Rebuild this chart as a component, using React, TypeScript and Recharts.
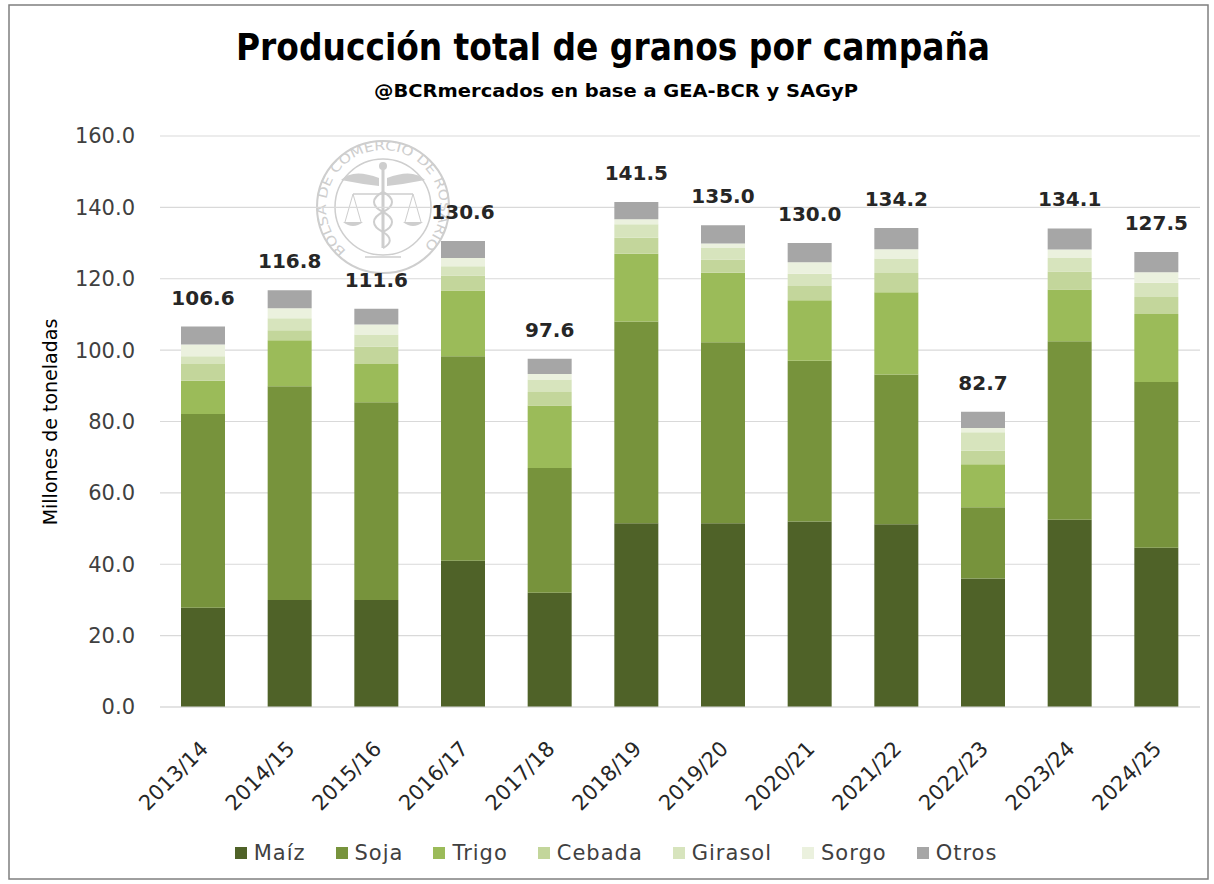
import React from 'react';
import { BarChart, Bar, XAxis, YAxis, CartesianGrid, LabelList, Legend } from 'recharts';

const categories = ['2013/14', '2014/15', '2015/16', '2016/17', '2017/18', '2018/19', '2019/20', '2020/21', '2021/22', '2022/23', '2023/24', '2024/25'];
const maiz = [27.8, 30.0, 30.0, 41.0, 32.0, 51.5, 51.5, 52.0, 51.2, 36.0, 52.5, 44.6];
const soja = [54.3, 59.9, 55.4, 57.3, 35.0, 56.5, 50.7, 45.0, 42.0, 20.0, 50.0, 46.5];
const trigo = [9.3, 12.9, 10.7, 18.4, 17.5, 19.0, 19.5, 17.0, 23.0, 12.0, 14.5, 19.0];
const cebada = [4.7, 2.8, 4.9, 4.2, 3.8, 4.5, 3.7, 4.0, 5.4, 3.8, 5.0, 4.8];
const girasol = [2.2, 3.3, 3.4, 2.6, 3.5, 3.8, 3.2, 3.4, 4.1, 5.2, 3.8, 4.0];
const sorgo = [3.3, 2.8, 2.8, 2.3, 1.5, 1.4, 1.3, 3.2, 2.6, 1.2, 2.4, 2.9];
const otros = [5.0, 5.1, 4.4, 4.8, 4.3, 4.8, 5.1, 5.4, 5.9, 4.5, 5.9, 5.7];
const totals = [106.6, 116.8, 111.6, 130.6, 97.6, 141.5, 135.0, 130.0, 134.2, 82.7, 134.1, 127.5];

const seriesNames = ['Maíz', 'Soja', 'Trigo', 'Cebada', 'Girasol', 'Sorgo', 'Otros'];
const seriesColors = ['#4f6228', '#77933c', '#9bbb59', '#c3d69b', '#d7e4bd', '#ebf1de', '#a6a6a6'];
const yTicks = [0, 20, 40, 60, 80, 100, 120, 140, 160];

const titleText = 'Producción total de granos por campaña';
const subtitleText = '@BCRmercados  en base a GEA-BCR y SAGyP';
const yAxisTitle = 'Millones de toneladas';
const watermarkText = 'BOLSA DE COMERCIO DE ROSARIO';

const seriesValues = [maiz, soja, trigo, cebada, girasol, sorgo, otros];
const data = categories.map((c, i) => {
  const row: Record<string, any> = { campaign: c, total: totals[i] };
  seriesNames.forEach((n, k) => {
    row[n] = seriesValues[k][i];
  });
  return row;
});

const AXIS_FONT = '"DejaVu Sans", "Noto Sans", sans-serif';
const NARROW_FONT = '"Liberation Sans Narrow", "DejaVu Sans Condensed", "Liberation Sans", sans-serif';

const XTick = (props: any) => {
  const { x, y, payload } = props;
  const ax = x + 6;
  const ay = y + 43;
  return (
    <text
      x={ax}
      y={ay}
      transform={`rotate(-45 ${ax} ${ay})`}
      textAnchor="end"
      fontFamily={AXIS_FONT}
      fontSize={21}
      fill="#262626"
    >
      {payload.value}
    </text>
  );
};

const LegendContent = () => (
  <div
    style={{
      display: 'flex',
      justifyContent: 'center',
      alignItems: 'center',
      fontFamily: AXIS_FONT,
      fontSize: 21,
      color: '#404040',
      letterSpacing: 1,
      lineHeight: '26px',
    }}
  >
    {seriesNames.map((n, i) => (
      <div key={n} style={{ display: 'flex', alignItems: 'center', marginRight: i < seriesNames.length - 1 ? 30 : 0 }}>
        <span style={{ display: 'inline-block', width: 12, height: 12, background: seriesColors[i], marginRight: 7 }} />
        <span>{n}</span>
      </div>
    ))}
  </div>
);

const Watermark = () => {
  const cx = 383;
  const cy = 207;
  const r = 57;
  const a1 = (130 * Math.PI) / 180;
  const a2 = (50 * Math.PI) / 180;
  const sx = cx + r * Math.cos(a1);
  const sy = cy + r * Math.sin(a1);
  const ex = cx + r * Math.cos(a2);
  const ey = cy + r * Math.sin(a2);
  const c = '#c9c9c9';
  return (
    <g opacity={0.9}>
      <defs>
        <path id="wmArc" d={`M ${sx} ${sy} A ${r} ${r} 0 1 1 ${ex} ${ey}`} />
      </defs>
      <circle cx={cx} cy={cy} r={66} fill="none" stroke={c} strokeWidth={2} />
      <circle cx={cx} cy={cy} r={48} fill="none" stroke={c} strokeWidth={1.5} />
      <text fontFamily={AXIS_FONT} fontSize={13} fill={c}>
        <textPath href="#wmArc" textLength={272} lengthAdjust="spacingAndGlyphs">
          {watermarkText}
        </textPath>
      </text>
      <line x1={cx} y1={168} x2={cx} y2={248} stroke={c} strokeWidth={3} />
      <circle cx={cx} cy={166} r={4} fill={c} />
      <path d={`M ${cx - 4} 178 Q ${cx - 30} 168 ${cx - 42} 180 Q ${cx - 22} 184 ${cx - 4} 186 Z`} fill={c} />
      <path d={`M ${cx + 4} 178 Q ${cx + 30} 168 ${cx + 42} 180 Q ${cx + 22} 184 ${cx + 4} 186 Z`} fill={c} />
      <path d={`M ${cx} 192 C ${cx + 12} 198 ${cx + 12} 206 ${cx} 212 C ${cx - 12} 218 ${cx - 12} 226 ${cx} 232 C ${cx + 10} 238 ${cx + 8} 244 ${cx} 248`} fill="none" stroke={c} strokeWidth={2} />
      <path d={`M ${cx} 192 C ${cx - 12} 198 ${cx - 12} 206 ${cx} 212 C ${cx + 12} 218 ${cx + 12} 226 ${cx} 232`} fill="none" stroke={c} strokeWidth={2} />
      <line x1={cx - 30} y1={194} x2={cx + 30} y2={194} stroke={c} strokeWidth={1.5} />
      <line x1={cx - 30} y1={194} x2={cx - 38} y2={222} stroke={c} strokeWidth={1} />
      <line x1={cx - 30} y1={194} x2={cx - 22} y2={222} stroke={c} strokeWidth={1} />
      <line x1={cx + 30} y1={194} x2={cx + 38} y2={222} stroke={c} strokeWidth={1} />
      <line x1={cx + 30} y1={194} x2={cx + 22} y2={222} stroke={c} strokeWidth={1} />
      <path d={`M ${cx - 40} 222 Q ${cx - 30} 230 ${cx - 20} 222 Z`} fill={c} />
      <path d={`M ${cx + 20} 222 Q ${cx + 30} 230 ${cx + 40} 222 Z`} fill={c} />
      <line x1={cx - 18} y1={257} x2={cx + 18} y2={257} stroke={c} strokeWidth={1.5} />
    </g>
  );
};

export default function App() {
  return (
    <div style={{ position: 'absolute', left: 0, top: 0, width: 1214, height: 884, background: '#ffffff' }}>
      <svg width={1214} height={884} style={{ position: 'absolute', left: 0, top: 0 }}>
        <rect x={9} y={5} width={1199} height={874} fill="#ffffff" stroke="#7f7f7f" strokeWidth={1.5} />
        <Watermark />
        <text
          x={613}
          y={60}
          textAnchor="middle"
          fontFamily={NARROW_FONT}
          fontWeight="bold"
          fontSize={38}
          fill="#000000"
          textLength={754}
          lengthAdjust="spacingAndGlyphs"
        >
          {titleText}
        </text>
        <text
          x={616}
          y={97}
          textAnchor="middle"
          fontFamily={NARROW_FONT}
          fontWeight="bold"
          fontSize={18}
          fill="#000000"
          textLength={484}
          lengthAdjust="spacingAndGlyphs"
        >
          {subtitleText}
        </text>
        <text
          x={50}
          y={422}
          transform="rotate(-90 50 422)"
          textAnchor="middle"
          dominantBaseline="central"
          fontFamily={AXIS_FONT}
          fontSize={19}
          fill="#000000"
        >
          {yAxisTitle}
        </text>
      </svg>
      <div style={{ position: 'absolute', left: 0, top: 0 }}>
        <BarChart
          width={1214}
          height={884}
          data={data}
          margin={{ top: 136, right: 14, left: 0, bottom: 117 }}
          barSize={44}
        >
          <CartesianGrid vertical={false} stroke="#d9d9d9" strokeWidth={1.2} />
          <XAxis
            dataKey="campaign"
            height={60}
            interval={0}
            axisLine={{ stroke: '#d9d9d9', strokeWidth: 1.2 }}
            tickLine={false}
            tickSize={0}
            tickMargin={0}
            tick={<XTick />}
          />
          <YAxis
            width={160}
            domain={[0, 160]}
            ticks={yTicks}
            interval={0}
            axisLine={false}
            tickLine={false}
            tickSize={0}
            tickMargin={25}
            tickFormatter={(v: number) => v.toFixed(1)}
            tick={{ fontFamily: AXIS_FONT, fontSize: 21, fill: '#404040' }}
          />
          <Legend
            verticalAlign="middle"
            align="center"
            layout="horizontal"
            content={LegendContent}
            wrapperStyle={{ top: 840, left: 0, width: 1232, height: 26 }}
          />
          {seriesNames.map((n, i) => (
            <Bar key={n} dataKey={n} stackId="a" fill={seriesColors[i]} isAnimationActive={false}>
              {i === seriesNames.length - 1 ? (
                <LabelList
                  dataKey="total"
                  position="top"
                  offset={22}
                  formatter={(v: any) => Number(v).toFixed(1)}
                  style={{ fontFamily: AXIS_FONT, fontSize: 20, fontWeight: 'bold', fill: '#262626' }}
                />
              ) : null}
            </Bar>
          ))}
        </BarChart>
      </div>
    </div>
  );
}
